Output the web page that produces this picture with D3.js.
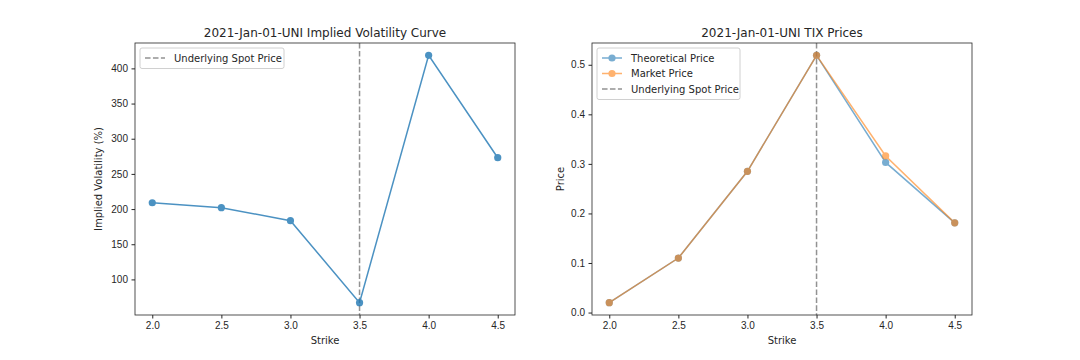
<!DOCTYPE html>
<html><head><meta charset="utf-8">
<script src="https://cdn.jsdelivr.net/npm/d3@7"></script>
<style>
body{margin:0;background:#fff;}
svg{display:block;font-family:"DejaVu Sans",sans-serif;}
.tick text{font-size:10px;fill:#262626;}
.tick line{stroke:#262626;}
.domain{stroke:none;}
</style></head><body>
<svg id="c" width="1080" height="360"></svg>
<script>
const strikes = [2.0, 2.5, 3.0, 3.5, 4.0, 4.5];
const impliedVol = [209, 202, 183.5, 67, 418.5, 273];
const theoreticalPrice = [0.020, 0.110, 0.285, 0.519, 0.303, 0.181];
const marketPrice = [0.020, 0.110, 0.285, 0.519, 0.316, 0.181];
const spotPrice = 3.5;
const xTicks = [2.0, 2.5, 3.0, 3.5, 4.0, 4.5];
const volTicks = [100, 150, 200, 250, 300, 350, 400];
const priceTicks = [0.0, 0.1, 0.2, 0.3, 0.4, 0.5];
const titles = ["2021-Jan-01-UNI Implied Volatility Curve", "2021-Jan-01-UNI TIX Prices"];

const svg = d3.select("#c");
const blue = "#1f77b4", orange = "#ff7f0e", gray = "#808080";
const R_MARK = 3.6;

function pad(ext){const r=ext[1]-ext[0];return [ext[0]-0.05*r, ext[1]+0.05*r];}

function panel(left, right, title, yTicks, yFmt, series, yDomain){
  const top=43, bottom=315;
  const x = d3.scaleLinear().domain(pad(d3.extent(strikes))).range([left,right]);
  const y = d3.scaleLinear().domain(yDomain).range([bottom,top]);
  const g = svg.append("g");
  g.append("g").attr("transform",`translate(0,${bottom})`)
    .call(d3.axisBottom(x).tickValues(xTicks).tickFormat(d3.format(".1f")).tickSize(3.5).tickPadding(3.5));
  g.append("g").attr("transform",`translate(${left},0)`)
    .call(d3.axisLeft(y).tickValues(yTicks).tickFormat(yFmt).tickSize(3.5).tickPadding(3.5));
  g.append("line").attr("x1",x(spotPrice)).attr("x2",x(spotPrice)).attr("y1",top).attr("y2",bottom)
    .attr("stroke",gray).attr("stroke-width",1.5).attr("stroke-dasharray","5.55,2.4").attr("opacity",0.85);
  series.forEach(s=>{
    const pts = strikes.map((k,i)=>[x(k),y(s.values[i])]);
    const sg = g.append("g").attr("opacity",s.alpha);
    sg.append("path").attr("d",d3.line()(pts)).attr("fill","none").attr("stroke",s.color).attr("stroke-width",1.5);
    sg.selectAll("circle").data(pts).join("circle").attr("cx",d=>d[0]).attr("cy",d=>d[1]).attr("r",R_MARK).attr("fill",s.color);
  });
  g.append("rect").attr("x",left).attr("y",top).attr("width",right-left).attr("height",bottom-top)
    .attr("fill","none").attr("stroke","#262626").attr("stroke-width",0.8);
  g.append("text").attr("x",(left+right)/2).attr("y",top-6).attr("text-anchor","middle")
    .attr("font-size",12).attr("fill","#262626").text(title);
  g.append("text").attr("x",(left+right)/2).attr("y",344).attr("text-anchor","middle")
    .attr("font-size",10).attr("fill","#262626").text("Strike");
}

panel(135, 515, titles[0], volTicks, d3.format("d"),
  [{values:impliedVol,color:blue,alpha:0.8}], pad(d3.extent(impliedVol)));
svg.append("text").attr("transform","translate(102,179) rotate(-90)").attr("text-anchor","middle")
  .attr("font-size",10).attr("fill","#262626").text("Implied Volatility (%)");

panel(592, 972, titles[1], priceTicks, d3.format(".1f"),
  [{values:theoreticalPrice,color:blue,alpha:0.6},{values:marketPrice,color:orange,alpha:0.6}],
  pad([d3.min(theoreticalPrice.concat(marketPrice)), d3.max(theoreticalPrice.concat(marketPrice))]));
svg.append("text").attr("transform","translate(564,179) rotate(-90)").attr("text-anchor","middle")
  .attr("font-size",10).attr("fill","#262626").text("Price");

function legend(x0,y0,w,items){
  const h = items.length*15.5+5;
  const lg = svg.append("g");
  lg.append("rect").attr("x",x0).attr("y",y0).attr("width",w).attr("height",h).attr("rx",2)
    .attr("fill","#fff").attr("fill-opacity",0.8).attr("stroke","#d0d0d0").attr("stroke-width",1);
  items.forEach((it,i)=>{
    const cy = y0+10+i*15.5;
    const gg = lg.append("g").attr("opacity",it.alpha);
    gg.append("line").attr("x1",x0+5).attr("x2",x0+25).attr("y1",cy).attr("y2",cy)
      .attr("stroke",it.color).attr("stroke-width",1.5).attr("stroke-dasharray",it.dash?"5.55,2.4":null);
    if(it.marker) gg.append("circle").attr("cx",x0+15).attr("cy",cy).attr("r",R_MARK).attr("fill",it.color);
    lg.append("text").attr("x",x0+34).attr("y",cy+3.6).attr("font-size",10).attr("fill","#262626").text(it.label);
  });
}
legend(140,48,144,[{label:"Underlying Spot Price",color:gray,dash:true,alpha:0.85}]);
legend(597,48,143,[
  {label:"Theoretical Price",color:blue,marker:true,alpha:0.6},
  {label:"Market Price",color:orange,marker:true,alpha:0.6},
  {label:"Underlying Spot Price",color:gray,dash:true,alpha:0.85}]);
</script></body></html>
